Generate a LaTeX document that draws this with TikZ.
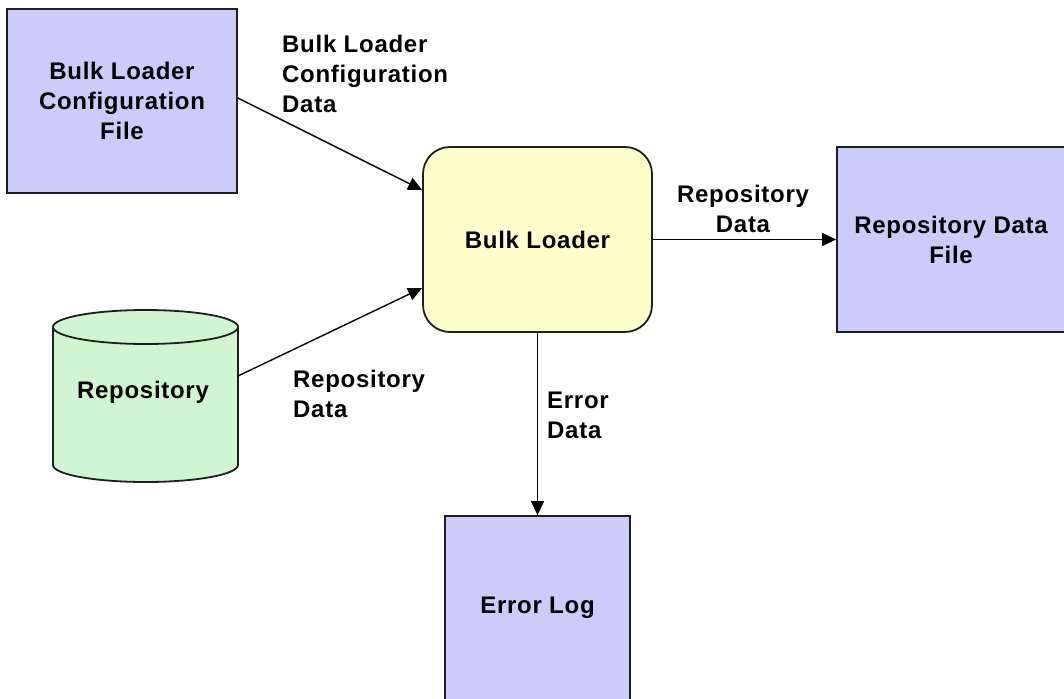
\documentclass[tikz,border=0pt]{standalone}
\usepackage{fontspec}
\setmainfont{Liberation Sans}[LetterSpace=3]
\usetikzlibrary{arrows.meta}

\definecolor{filebox}{RGB}{204,204,250}
\definecolor{procbox}{RGB}{255,255,204}
\definecolor{storebox}{RGB}{208,245,208}
\definecolor{edge}{RGB}{30,30,30}

\tikzset{
  txt/.style={font=\fontsize{24}{30}\selectfont\bfseries, align=center, text=black},
  filenode/.style={txt, draw=edge, line width=1.8pt, fill=filebox, inner sep=0pt},
  procnode/.style={txt, draw=edge, line width=1.8pt, fill=procbox, inner sep=0pt, rounded corners=27pt},
  flowlabel/.style={txt, inner sep=0pt},
  flow/.style={draw=black, line width=1.4pt, -{Triangle[length=14pt,width=13pt]}}
}

\begin{document}
\begin{tikzpicture}[x=1pt,y=-1pt]
  \useasboundingbox (0,0) rectangle (1064,698);

  % boxes
  \node[filenode, minimum width=230pt, minimum height=184pt] (cfg) at (122,101)
    {Bulk Loader\\Configuration\\File};
  \node[procnode, minimum width=229pt, minimum height=185pt] (bl) at (537.5,239.5)
    {Bulk Loader};
  \node[filenode, minimum width=228pt, minimum height=185pt] (rdf) at (951,239.5)
    {Repository Data\\File};
  \node[filenode, minimum width=185pt, minimum height=184pt] (err) at (537.5,608)
    {Error Log};

  % repository drum
  \filldraw[draw=edge, line width=1.8pt, fill=storebox]
    (53,327) -- (53,465)
    .. controls (53,474.4) and (94.4,482) .. (145.5,482)
    .. controls (196.6,482) and (238,474.4) .. (238,465)
    -- (238,327)
    .. controls (238,317.6) and (196.6,310) .. (145.5,310)
    .. controls (94.4,310) and (53,317.6) .. (53,327) -- cycle;
  \draw[draw=edge, line width=1.8pt]
    (53,327) .. controls (53,336.4) and (94.4,344) .. (145.5,344)
    .. controls (196.6,344) and (238,336.4) .. (238,327);
  \node[txt, inner sep=0pt] (repo) at (143,392) {Repository};
  \coordinate (repoout) at (238,376);

  % data flows
  \draw[flow] ([yshift=3pt]cfg.east) -- ([yshift=49.5pt]bl.west);
  \draw[flow] (repoout) -- ([yshift=-48.5pt]bl.west);
  \draw[flow] (bl.east) -- (rdf.west);
  \draw[flow] (bl.south) -- (err.north);

  % flow labels
  \node[flowlabel, align=left, anchor=north west] (lcfg) at (282,35)
    {Bulk Loader\\Configuration\\Data};
  \node[flowlabel, align=left, anchor=north west] (lrepo) at (293,370)
    {Repository\\Data};
  \node[flowlabel, align=center, anchor=north] (lout) at (743,185)
    {Repository\\Data};
  \node[flowlabel, align=left, anchor=north west] (lerr) at (547,392)
    {Error\\Data};
\end{tikzpicture}
\end{document}
